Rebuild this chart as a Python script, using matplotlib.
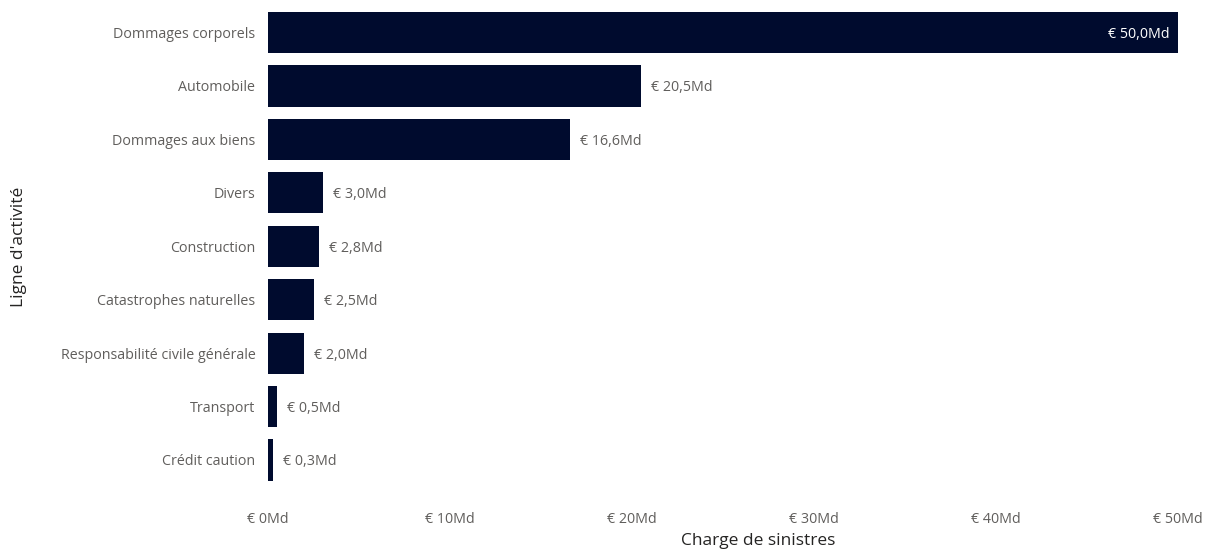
import matplotlib.pyplot as plt
from matplotlib.ticker import FuncFormatter

plt.rcParams['font.family'] = ['Open Sans', 'DejaVu Sans']

# Charge de sinistres par ligne d'activité (milliards d'euros)
lignes = ['Dommages corporels', 'Automobile', 'Dommages aux biens', 'Divers',
          'Construction', 'Catastrophes naturelles',
          'Responsabilité civile générale', 'Transport', 'Crédit caution']
charges = [50.0, 20.5, 16.6, 3.0, 2.8, 2.5, 2.0, 0.5, 0.3]
graduations = [0, 10, 20, 30, 40, 50]

bar_color = '#000B2E'
text_color = '#605E5C'

fig = plt.figure(figsize=(12.05, 5.51), dpi=100)
ax = fig.add_axes([268 / 1205, 1 - 486.7 / 551, 910 / 1205, 480.9 / 551])

pos = list(range(len(lignes)))
bars = ax.barh(pos, charges, height=0.77, color=bar_color)
ax.set_ylim(len(lignes) - 0.5, -0.5)
ax.set_xlim(0, 50)

for b, v in zip(bars, charges):
    lab = '€ ' + f'{v:.1f}'.replace('.', ',') + 'Md'
    y = b.get_y() + b.get_height() / 2
    if v >= 45:
        ax.text(v - 0.45, y, lab, ha='right', va='center_baseline', color='white', fontsize=10.3)
    else:
        ax.text(v + 0.55, y, lab, ha='left', va='center_baseline', color=text_color, fontsize=10.3)

ax.set_yticks(pos)
ax.set_yticklabels(lignes)
ax.set_xticks(graduations)
ax.xaxis.set_major_formatter(FuncFormatter(lambda x, p: f'€ {x:.0f}Md'))
ax.tick_params(axis='both', length=0, colors=text_color, labelsize=10.3)
ax.tick_params(axis='y', pad=9)
ax.tick_params(axis='x', pad=18)

for s in ax.spines.values():
    s.set_visible(False)

ax.set_xlabel('Charge de sinistres', fontsize=12.5, color='#252423', va='center')
ax.xaxis.set_label_coords((758 - 268) / 910, -(541 - 486.7) / 480.9)
ax.set_ylabel("Ligne d'activité", fontsize=12.5, color='#252423', va='center')
ax.yaxis.set_label_coords(-(268 - 19) / 910, 1 - (247 - 5.8) / 480.9)

fig.savefig('out.png', dpi=100)
